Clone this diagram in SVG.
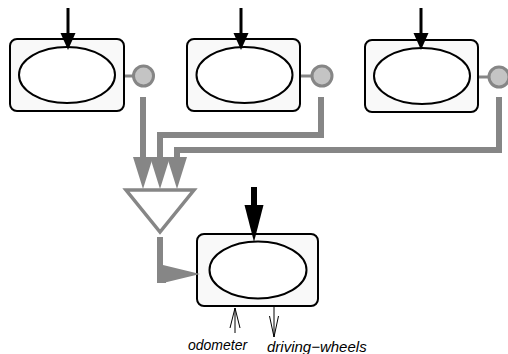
<svg xmlns="http://www.w3.org/2000/svg" width="508" height="354" viewBox="0 0 508 354">
<style>
.box{fill:#f9f9f9;stroke:#000;stroke-width:2}
.ell{fill:#fff;stroke:#000;stroke-width:2}
.port{fill:#c4c4c4;stroke:#868686;stroke-width:3}
.stub{stroke:#868686;stroke-width:3;fill:none}
.gl{stroke:#868686;stroke-width:6;fill:none}
.gh{fill:#868686;stroke:none}
.bl{stroke:#000;fill:none}
.bh{fill:#000;stroke:none}
.thin{stroke:#000;stroke-width:1;fill:none}
.lbl{font-family:"Liberation Sans",Arial,sans-serif;font-style:italic;fill:#000}
</style>
<rect width="508" height="354" fill="#fff"/>
<g id="node1">
  <rect class="box" x="10" y="39" width="114" height="72" rx="7"/>
  <ellipse class="ell" cx="67" cy="75" rx="48" ry="28"/>
</g>
<g id="node2">
  <rect class="box" x="187" y="39" width="113" height="72" rx="7"/>
  <ellipse class="ell" cx="244.5" cy="75" rx="48" ry="28"/>
</g>
<g id="node3">
  <rect class="box" x="365" y="40" width="113" height="72" rx="7"/>
  <ellipse class="ell" cx="422" cy="76" rx="48" ry="28"/>
</g>
<g id="port1"><circle class="port" cx="143.5" cy="76" r="10"/></g>
<g id="port2"><circle class="port" cx="322" cy="76" r="10"/></g>
<g id="port3"><circle class="port" cx="499" cy="77" r="10"/></g>
<g id="combiner">
  <polygon points="126,190 194,190 160,232" fill="#fff" stroke="#868686" stroke-width="3.5"/>
</g>
<g id="node4">
  <rect class="box" x="197" y="234" width="121" height="72" rx="7"/>
  <ellipse class="ell" cx="258" cy="270" rx="48.5" ry="28.5"/>
</g>
<g id="connectors">
  <!-- black input arrows -->
  <line class="bl" stroke-width="3" x1="68" y1="8" x2="68" y2="36"/>
  <polygon class="bh" points="60.5,33 75.5,33 68,50"/>
  <line class="bl" stroke-width="3" x1="241" y1="8" x2="241" y2="36"/>
  <polygon class="bh" points="233.5,33 248.5,33 241,50"/>
  <line class="bl" stroke-width="3" x1="421" y1="8" x2="421" y2="36"/>
  <polygon class="bh" points="413.5,33 428.5,33 421,50"/>
  <line class="bl" stroke-width="6" x1="254" y1="187" x2="254" y2="208"/>
  <polygon class="bh" points="244.5,205 263.5,205 254,242"/>
  <!-- port stubs -->
  <line class="stub" x1="125" y1="76" x2="133" y2="76"/>
  <line class="stub" x1="301" y1="76" x2="311" y2="76"/>
  <line class="stub" x1="479" y1="77" x2="488" y2="77"/>
  <!-- gray paths into triangle -->
  <polyline class="gl" points="143,97 143,160"/>
  <polygon class="gh" points="133,157 153,157 143,189"/>
  <polyline class="gl" points="321,97 321,135 160,135 160,160"/>
  <polygon class="gh" points="150,157 170,157 160,189"/>
  <polyline class="gl" points="499,97 499,150 177,150 177,160"/>
  <polygon class="gh" points="167,157 187,157 177,189"/>
  <!-- triangle to box 4 -->
  <polyline class="gl" points="160,237 160,280 166,280"/>
  <polygon class="gh" points="163,265 200,274 163,283"/>
  <!-- bottom thin arrows -->
  <line class="thin" x1="235" y1="333" x2="235" y2="308"/>
  <polyline class="thin" points="230,328 235,308 240,328"/>
  <line class="thin" x1="274" y1="307" x2="274" y2="337"/>
  <polyline class="thin" points="269.5,316 274,337 278.5,316"/>
</g>
<g id="labels">
  <text class="lbl" x="188" y="350" font-size="14">odometer</text>
  <text class="lbl" x="267" y="352" font-size="15">driving−wheels</text>
</g>
</svg>
